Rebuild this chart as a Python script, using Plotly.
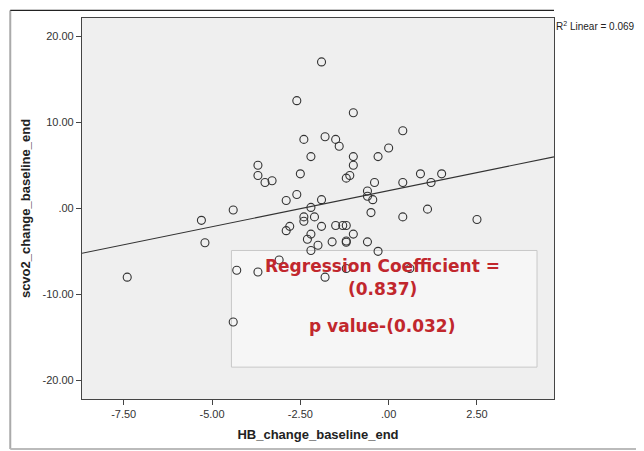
import plotly.graph_objects as go

# Data
hb_change = [-1.90, -2.60, -1.00, 0.40, -2.40, -1.80, -1.50, -1.40, 0.00, -2.20,
             -1.00, -0.30, -3.70, -1.00, -3.70, -3.50, -3.30, -2.50, -1.10, -1.20,
             0.90, 1.50, 1.20, 0.40, -0.40, -2.60, -0.60, -0.60, -0.45, -2.90,
             -1.90, -2.20, -4.40, -0.50, 1.10, -2.40, -2.10, -2.40, 0.40, 2.50,
             -5.30, -2.80, -2.90, -1.90, -1.50, -1.30, -1.20, -2.20, -1.00, -2.30,
             -2.00, -1.60, -1.20, -1.20, -0.60, -5.20, -2.20, -0.30, -3.10, -1.20,
             0.60, -4.30, -3.70, -1.80, -7.40, -4.40]
scvo2_change = [17.0, 12.5, 11.1, 9.0, 8.0, 8.3, 8.0, 7.2, 7.0, 6.0,
                6.0, 6.0, 5.0, 5.0, 3.8, 3.0, 3.2, 4.0, 3.8, 3.5,
                4.0, 4.0, 3.0, 3.0, 3.0, 1.6, 2.0, 1.4, 1.0, 0.9,
                1.0, 0.1, -0.2, -0.5, -0.1, -1.0, -1.0, -1.5, -1.0, -1.3,
                -1.4, -2.1, -2.6, -2.1, -2.0, -2.0, -2.0, -3.0, -3.0, -3.6,
                -4.3, -3.9, -3.8, -3.95, -3.9, -4.0, -4.9, -5.0, -6.0, -7.0,
                -7.0, -7.2, -7.4, -8.0, -8.0, -13.2]

# Fitted line parameters
fit_slope = 0.837
fit_intercept = 2.05
r2_linear = 0.069
p_value = 0.032

x_ticks = [-7.5, -5.0, -2.5, 0.0, 2.5]
x_tick_labels = ["-7.50", "-5.00", "-2.50", ".00", "2.50"]
y_ticks = [-20, -10, 0, 10, 20]
y_tick_labels = ["-20.00", "-10.00", ".00", "10.00", "20.00"]

x_range = [-8.68, 4.68]
y_range = [-22.15, 22.1]

fig = go.Figure()

fig.add_trace(go.Scatter(
    x=hb_change, y=scvo2_change, mode="markers",
    marker=dict(symbol="circle-open", size=8, color="#333333", line=dict(width=1.1)),
    showlegend=False, hoverinfo="x+y"))

fig.add_trace(go.Scatter(
    x=x_range, y=[fit_intercept + fit_slope * v for v in x_range], mode="lines",
    line=dict(color="#333333", width=1.1), showlegend=False, hoverinfo="skip"))

# Text box (below markers)
fig.add_shape(type="rect", xref="x", yref="y", x0=-4.45, x1=4.2, y0=-18.45, y1=-4.9,
              line=dict(color="#c8c8c8", width=1), fillcolor="#f6f6f6", layer="below")

red = "#c1272d"
txt_font = dict(family="DejaVu Sans", size=17, color=red)
fig.add_annotation(xref="x", yref="y", x=-0.18, y=-6.7,
                   text="<b>Regression Coefficient =</b>", showarrow=False, font=txt_font)
fig.add_annotation(xref="x", yref="y", x=-0.18, y=-9.4,
                   text=f"<b>({fit_slope:.3f})</b>", showarrow=False, font=txt_font)
fig.add_annotation(xref="x", yref="y", x=-0.18, y=-13.7,
                   text=f"<b>p value-({p_value:.3f})</b>", showarrow=False, font=txt_font)

fig.add_annotation(xref="paper", yref="paper", x=1.0, y=0.98, xanchor="left", yanchor="middle",
                   text=f"R<sup>2</sup> Linear = {r2_linear:.3f}", showarrow=False,
                   font=dict(family="Liberation Sans", size=10, color="#222222"))

# Outer frame lines
fig.add_shape(type="line", xref="paper", yref="paper", x0=-0.152, x1=-0.152, y0=-0.131, y1=1.02,
              line=dict(color="#aaaaaa", width=2))
fig.add_shape(type="line", xref="paper", yref="paper", x0=-0.152, x1=1.2, y0=-0.131, y1=-0.131,
              line=dict(color="#bbbbbb", width=2))
fig.add_shape(type="line", xref="paper", yref="paper", x0=-0.152, x1=1.0, y0=1.02, y1=1.02,
              line=dict(color="#222222", width=1.2))

axis_common = dict(showgrid=False, zeroline=False, showline=True, linecolor="#444444",
                   linewidth=1.2, mirror=True, ticks="outside", ticklen=5, tickcolor="#444444",
                   tickfont=dict(family="Liberation Sans", size=11, color="#333333"))

fig.update_xaxes(range=x_range, tickvals=x_ticks, ticktext=x_tick_labels,
                 title=dict(text="<b>HB_change_baseline_end</b>", standoff=10,
                            font=dict(family="Liberation Sans", size=13, color="#222222")),
                 **axis_common)
fig.update_yaxes(range=y_range, tickvals=y_ticks, ticktext=y_tick_labels,
                 title=dict(text="<b>scvo2_change_baseline_end</b>", standoff=8,
                            font=dict(family="Liberation Sans", size=13, color="#222222")),
                 **axis_common)

# The page body has an 8px margin, so the figure is sized to fit the 644x451 window
fig.update_layout(width=636, height=443, margin=dict(l=74, r=90, t=10, b=52),
                  plot_bgcolor="#efefef", paper_bgcolor="white")

fig.write_html("out.html")
